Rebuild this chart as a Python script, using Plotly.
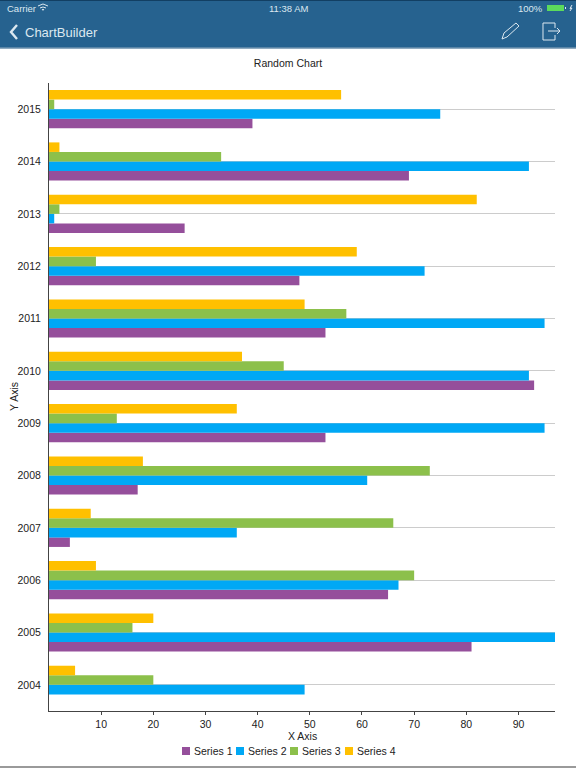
import plotly.graph_objs as go

years = [str(y) for y in range(2004, 2016)]
series_1 = [0, 81, 65, 4, 17, 53, 93, 53, 48, 26, 69, 39]
series_2 = [49, 97, 67, 36, 61, 95, 92, 95, 72, 1, 92, 75]
series_3 = [20, 16, 70, 66, 73, 13, 45, 57, 9, 2, 33, 1]
series_4 = [5, 20, 9, 8, 18, 36, 37, 49, 59, 82, 2, 56]
x_ticks = [10, 20, 30, 40, 50, 60, 70, 80, 90]
names = ['Series 1', 'Series 2', 'Series 3', 'Series 4']
colors = ['#954F9B', '#00A8F5', '#8CC04B', '#FFC000']

FONT = 'Liberation Sans'
HEADER = '#26628F'
LIGHT = '#DCE8F0'

# plot area in page pixels
LEFT, RIGHT, TOP, BOTTOM = 49, 555, 83, 711


def px(x):
    return (x - LEFT) / (RIGHT - LEFT)


def py(y):
    return (BOTTOM - y) / (BOTTOM - TOP)


def rect(x0, y0, x1, y1, color):
    return dict(type='rect', xref='paper', yref='paper', x0=px(x0), x1=px(x1),
                y0=py(y0), y1=py(y1), fillcolor=color, line=dict(width=0), layer='above')


def path(points, color=LIGHT, width=1.2):
    d = 'M' + ' L'.join('{:.5f},{:.5f}'.format(px(a), py(b)) for a, b in points)
    return dict(type='path', xref='paper', yref='paper', path=d,
                line=dict(color=color, width=width), layer='above')


def label(x, y, text, size=10.5, color='#222222', anchor='center', angle=0):
    return dict(xref='paper', yref='paper', x=px(x), y=py(y), text=text, showarrow=False,
                xanchor=anchor, yanchor='middle', textangle=angle,
                font=dict(family=FONT, size=size, color=color))


all_traces = list()
for name, values, color in zip(names, [series_1, series_2, series_3, series_4], colors):
    all_traces.append(go.Bar(
        y=years,
        x=values,
        name=name,
        orientation='h',
        marker=dict(color=color, line=dict(width=0))
    ))

shapes = [
    rect(0, 0, 576, 48, HEADER),
    rect(0, 0, 576, 1, '#123F63'),
    rect(0, 47.5, 576, 49, '#8FAABF'),
    rect(0, 766, 576, 768, '#9A9A9A'),
    # back chevron
    path([(17, 25), (11, 32), (17, 39)], width=2.4),
    # pencil
    path([(502, 39), (504, 33), (516, 23), (519, 26), (507, 37), (502, 39)], width=1),
    # exit icon
    path([(555, 28), (555, 23), (543, 23), (543, 40), (555, 40), (555, 35)], width=1),
    path([(548, 31), (560, 31)], width=1),
    path([(557, 28), (560, 31), (557, 34)], width=1),
    # wifi
    path([(38, 6), (43, 4), (48, 6)], width=1),
    path([(40, 8), (43, 7), (46, 8)], width=1),
    path([(42, 10), (43, 9.5), (44, 10)], width=1.2),
    # battery
    rect(547, 5, 564, 11, '#5CDB5C'),
    rect(565, 7, 566, 9, LIGHT),
    path([(572, 5), (570, 8.5), (572, 8), (570, 11)], width=1),
]

annotations = [
    label(5, 8, 'Carrier', 9.5, LIGHT, 'left'),
    label(289, 8, '11:38 AM', 9.5, LIGHT),
    label(545, 8, '100%', 9.5, LIGHT, 'right'),
    label(23, 32, 'ChartBuilder', 13, LIGHT, 'left'),
    # axis titles
    label(302, 736, 'X Axis'),
    label(14, 397, 'Y Axis', angle=-90),
]

# legend row under the x axis title
legend_x = [182, 236, 290, 345]
for x, name, color in zip(legend_x, names, colors):
    shapes.append(rect(x, 747, x + 8, 755, color))
    annotations.append(label(x + 10, 751, name, 10.5, '#222222', 'left'))

layout = go.Layout(
    width=576,
    height=768,
    barmode='group',
    bargap=0.27,
    bargroupgap=0,
    showlegend=False,
    paper_bgcolor='white',
    plot_bgcolor='white',
    margin=dict(l=LEFT, r=576 - RIGHT, t=TOP, b=768 - BOTTOM, pad=0),
    font=dict(family=FONT, size=10.5, color='#222222'),
    title=dict(text='Random Chart', x=0.5, xref='container', xanchor='center',
               y=1 - 63 / 768, yref='container', yanchor='middle',
               font=dict(family=FONT, size=10.5, color='#222222')),
    xaxis=dict(
        automargin=False,
        range=[0, 97],
        tickvals=x_ticks,
        ticks='outside',
        ticklen=3,
        tickcolor='#444444',
        showgrid=False,
        zeroline=False,
        showline=True,
        linecolor='#444444',
        linewidth=1,
        tickfont=dict(size=10.5)
    ),
    yaxis=dict(
        automargin=False,
        type='category',
        categoryorder='array',
        categoryarray=years,
        showgrid=True,
        gridcolor='#CCCCCC',
        gridwidth=1,
        zeroline=False,
        showline=True,
        linecolor='#444444',
        linewidth=1,
        ticks='outside',
        ticklen=5,
        tickcolor='rgba(0,0,0,0)',
        tickfont=dict(size=10.5)
    ),
    shapes=shapes,
    annotations=annotations
)

fig = go.Figure(data=all_traces, layout=layout)
fig.write_html('out.html', config=dict(displayModeBar=False),
               post_script="document.body.style.margin='0';document.body.style.overflow='hidden';")
